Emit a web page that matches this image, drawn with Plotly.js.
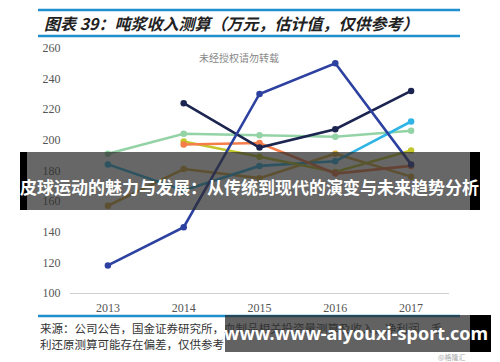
<!DOCTYPE html>
<html>
<head>
<meta charset="utf-8">
<script src="https://cdn.plot.ly/plotly-3.0.1.min.js"></script>
<style>html,body{margin:0;padding:0;background:#fff;}#chart{width:500px;height:362px;}</style>
</head>
<body>
<div id="chart"></div>
<script>
// ---- data ----
const years = ['2013', '2014', '2015', '2016', '2017'];
const royalBlue = [118, 143, 230, 250, 184];
const navy = [null, 224, 195, 207, 232];
const green = [191, 204, 203, 202, 206];
const orange = [null, 197, 198, 178, 183];
const lime = [null, 199, 189, 179, 193];
const sky = [184, 167, 183, 186, 212];
const gold = [157, 181, 175, 191, 176];
const yTicks = [100, 120, 140, 160, 180, 200, 220, 240, 260];

// ---- layout helpers ----
const L = 70, R = 449, T = 48, B = 293;
const px = x => (x - L) / (R - L);
const py = y => (B - y) / (B - T);

function line(name, data, color) {
  return {
    type: 'scatter', mode: 'lines+markers', name: name,
    x: years, y: data, connectgaps: false,
    line: {color: color, width: 2.6},
    marker: {color: color, size: 6.5},
    cliponaxis: false, hoverinfo: 'skip'
  };
}

const traces = [
  line('green', green, '#93d3a5'),
  line('gold', gold, '#d6ad3a'),
  line('sky', sky, '#2fb4e6'),
  line('lime', lime, '#c3c72a'),
  line('orange', orange, '#f47d4a'),
  line('navy', navy, '#1b2550'),
  line('royal', royalBlue, '#2c41a0')
];

const serif = 'Liberation Serif, DejaVu Serif, serif';
const cjk = 'Noto Sans CJK SC, Noto Sans, sans-serif';

const shapes = [
  {type: 'line', xref: 'paper', yref: 'paper', x0: px(38), x1: px(460), y0: py(10), y1: py(10), line: {color: '#1f8fd0', width: 2.5}},
  {type: 'line', xref: 'paper', yref: 'paper', x0: px(38), x1: px(460), y0: py(36), y1: py(36), line: {color: '#1f8fd0', width: 2.5}},
  {type: 'line', xref: 'paper', yref: 'paper', x0: px(38), x1: px(460), y0: py(316), y1: py(316), line: {color: '#1f8fd0', width: 2.5}},
  // top banner
  {type: 'rect', xref: 'paper', yref: 'paper', x0: px(27), x1: px(470), y0: py(152), y1: py(210), fillcolor: 'rgba(45,45,45,0.72)', line: {width: 0}},
  {type: 'rect', xref: 'paper', yref: 'paper', x0: px(20), x1: px(27), y0: py(152), y1: py(210), fillcolor: '#000', line: {width: 0}},
  {type: 'rect', xref: 'paper', yref: 'paper', x0: px(470), x1: px(480), y0: py(152), y1: py(210), fillcolor: '#000', line: {width: 0}},
  // bottom banner
  {type: 'rect', xref: 'paper', yref: 'paper', x0: px(225), x1: px(470), y0: py(315), y1: py(352), fillcolor: 'rgba(45,45,45,0.75)', line: {width: 0}},
  {type: 'rect', xref: 'paper', yref: 'paper', x0: px(470), x1: px(491), y0: py(315), y1: py(352), fillcolor: '#000', line: {width: 0}}
];

const annotations = [
  {text: '<b><i>图表 39：吨浆收入测算（万元，估计值，仅供参考）</i></b>', xref: 'paper', yref: 'paper', x: px(42), y: py(23), xanchor: 'left', yanchor: 'middle', showarrow: false, font: {family: cjk, size: 16, color: '#222'}},
  {text: '未经授权请勿转载', xref: 'paper', yref: 'paper', x: px(239), y: py(57), xanchor: 'center', yanchor: 'middle', showarrow: false, font: {family: cjk, size: 10, color: '#888'}},
  {text: '<b>皮球运动的魅力与发展：从传统到现代的演变与未来趋势分析</b>', xref: 'paper', yref: 'paper', x: px(249), y: py(186), xanchor: 'center', yanchor: 'middle', showarrow: false, font: {family: cjk, size: 17, color: '#fff'}},
  {text: '来源：公司公告，国金证券研究所，血制品相关投资量测算及收入，净利润，毛', xref: 'paper', yref: 'paper', x: px(38), y: py(328), xanchor: 'left', yanchor: 'middle', showarrow: false, font: {family: cjk, size: 11.5, color: '#333'}},
  {text: '利还原测算可能存在偏差，仅供参考', xref: 'paper', yref: 'paper', x: px(38), y: py(344), xanchor: 'left', yanchor: 'middle', showarrow: false, font: {family: cjk, size: 11.5, color: '#333'}},
  {text: '<b>www.www-aiyouxi-sport.com</b>', xref: 'paper', yref: 'paper', x: px(356), y: py(333), xanchor: 'center', yanchor: 'middle', showarrow: false, font: {family: 'Noto Sans, DejaVu Sans, sans-serif', size: 18, color: '#fff'}},
  {text: '@格隆汇', xref: 'paper', yref: 'paper', x: px(452), y: py(357), xanchor: 'center', yanchor: 'middle', showarrow: false, font: {family: cjk, size: 7, color: '#aaa'}}
];

const layout = {
  width: 500, height: 362,
  margin: {l: L, r: 500 - R, t: T, b: 362 - B},
  paper_bgcolor: '#fff', plot_bgcolor: '#fff',
  showlegend: false,
  xaxis: {
    type: 'category', categoryarray: years, range: [-0.5, 4.5], automargin: false,
    showgrid: false, zeroline: false,
    showline: true, linecolor: '#cfcfcf', linewidth: 1,
    ticks: 'outside', ticklen: 4, tickcolor: 'rgba(0,0,0,0)',
    tickfont: {family: serif, size: 12, color: '#555'}
  },
  yaxis: {
    range: [100, 260], tickvals: yTicks, ticktext: yTicks.map(String), automargin: false,
    showgrid: false, zeroline: false, showline: false,
    ticks: 'outside', ticklen: 6, tickcolor: 'rgba(0,0,0,0)',
    tickfont: {family: serif, size: 12, color: '#555'}
  },
  shapes: shapes,
  annotations: annotations
};

Plotly.newPlot('chart', traces, layout, {staticPlot: true, displayModeBar: false});
</script>
</body>
</html>
